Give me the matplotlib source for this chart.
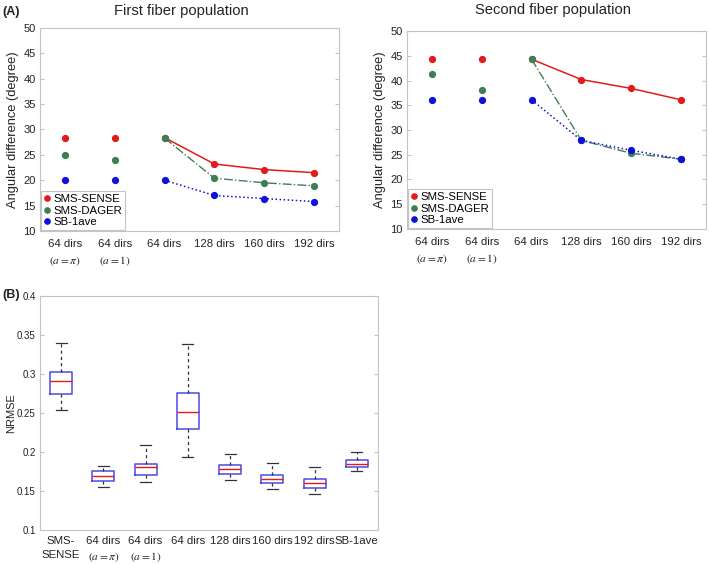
import matplotlib
matplotlib.use("Agg")
import matplotlib.pyplot as plt
import numpy as np

plt.rcParams['font.family'] = ['Liberation Sans', 'DejaVu Sans']
plt.rcParams['mathtext.fontset'] = 'stix'

# ---------------- data ----------------
catsA = ["64 dirs\n$(a=\\pi)$", "64 dirs\n$(a=1)$", "64 dirs", "128 dirs", "160 dirs", "192 dirs"]
series_names = ["SMS-SENSE", "SMS-DAGER", "SB-1ave"]

first_sense = [28.4, 28.4, 28.4, 23.2, 22.1, 21.5]
first_dager = [24.9, 24.0, 28.3, 20.4, 19.5, 18.9]
first_sb = [20.0, 20.0, 20.0, 17.0, 16.4, 15.8]

second_sense = [44.3, 44.3, 44.3, 40.2, 38.4, 36.1]
second_dager = [41.4, 38.1, 44.3, 27.9, 25.3, 24.1]
second_sb = [36.1, 36.1, 36.1, 27.9, 25.9, 24.1]

catsB = ["SMS-\nSENSE", "64 dirs\n$(a=\\pi)$", "64 dirs\n$(a=1)$", "64 dirs",
         "128 dirs", "160 dirs", "192 dirs", "SB-1ave"]
b_whislo = [0.254, 0.155, 0.1615, 0.193, 0.1637, 0.152, 0.1457, 0.1752]
b_q1 = [0.2748, 0.1624, 0.170, 0.230, 0.1718, 0.1598, 0.1538, 0.1808]
b_med = [0.2906, 0.1688, 0.1803, 0.2509, 0.1778, 0.1654, 0.1598, 0.1846]
b_q3 = [0.302, 0.1752, 0.185, 0.276, 0.1833, 0.171, 0.1658, 0.1893]
b_whishi = [0.3397, 0.1825, 0.209, 0.339, 0.1979, 0.1863, 0.1812, 0.200]

# ---------------- style ----------------
RED = '#E41A1A'
GREEN = '#3D7F52'
BLUE = '#1010DD'
BOXBLUE = '#4A4AE6'
SPINE = '#C4C4C4'
TXT = '#222222'

fig = plt.figure(figsize=(7.09, 5.64), dpi=100)

def style_axes(ax, lsize):
    for s in ax.spines.values():
        s.set_color(SPINE)
        s.set_linewidth(0.8)
    ax.tick_params(axis='y', direction='in', length=3, color=SPINE,
                   labelsize=lsize, labelcolor=TXT, right=True, pad=3)
    ax.tick_params(axis='x', length=0, labelsize=8.2, labelcolor=TXT, pad=6)

def panelA(ax, sense, dager, sb, title, tpad, tx):
    x = np.arange(1, len(catsA) + 1)
    styles = [(sense, RED, '-', 1.1), (dager, GREEN, '-.', 1.0), (sb, BLUE, ':', 1.1)]
    handles = []
    for (vals, col, ls, lw), name in zip(styles, series_names):
        ax.plot(x[2:], vals[2:], color=col, ls=ls, lw=lw, zorder=2)
        h, = ax.plot(x, vals, 'o', color=col, ms=4.2, ls='none', zorder=3, label=name)
        handles.append(h)
    ax.set_xlim(0.5, 6.5)
    ax.set_ylim(10, 50)
    ax.set_yticks(np.arange(10, 51, 5))
    ax.set_xticks(x)
    ax.set_xticklabels(catsA, linespacing=1.5)
    style_axes(ax, 8)
    ax.set_ylabel("Angular difference (degree)", fontsize=9.3, color=TXT, labelpad=3)
    ax.set_title(title, fontsize=10.6, color=TXT, pad=tpad, x=tx)
    leg = ax.legend(handles=handles, loc='lower left', fontsize=8.2, handlelength=0.6,
                    handletextpad=0.25, labelspacing=0.12, borderpad=0.25,
                    borderaxespad=0.1, fancybox=False, framealpha=1, markerscale=0.9)
    leg.get_frame().set_edgecolor(SPINE)
    leg.get_frame().set_linewidth(0.8)

ax1 = fig.add_axes([0.0564, 0.5904, 0.4217, 0.36])
panelA(ax1, first_sense, first_dager, first_sb, "First fiber population", 9.5, 0.473)

ax2 = fig.add_axes([0.574, 0.594, 0.4217, 0.351])
panelA(ax2, second_sense, second_dager, second_sb, "Second fiber population", 12.5, 0.49)

ax3 = fig.add_axes([0.0564, 0.0603, 0.4767, 0.415])
stats = []
for lo, q1, med, q3, hi in zip(b_whislo, b_q1, b_med, b_q3, b_whishi):
    stats.append(dict(whislo=lo, q1=q1, med=med, q3=q3, whishi=hi, fliers=[]))
pos = np.arange(1, len(catsB) + 1)
ax3.bxp(stats, positions=pos, widths=0.52, showfliers=False,
        boxprops=dict(color=BOXBLUE, lw=1.1),
        medianprops=dict(color=RED, lw=1.0),
        whiskerprops=dict(color='#333333', lw=0.9, ls=(0, (2.5, 2.5))),
        capprops=dict(color='#333333', lw=0.9),
        capwidths=0.26)
ax3.set_xlim(0.5, 8.5)
ax3.set_ylim(0.1, 0.4)
ax3.set_yticks([0.1, 0.15, 0.2, 0.25, 0.3, 0.35, 0.4])
ax3.set_yticklabels(["0.1", "0.15", "0.2", "0.25", "0.3", "0.35", "0.4"])
ax3.set_xticks(pos)
ax3.set_xticklabels(catsB, linespacing=1.5)
style_axes(ax3, 7)
ax3.tick_params(axis='x', pad=4)
ax3.set_ylabel("NRMSE", fontsize=8, color=TXT, labelpad=1)

fig.text(0.003, 0.99, "(A)", fontsize=9, fontweight='bold', color=TXT, va='top', ha='left')
fig.text(0.003, 0.488, "(B)", fontsize=9, fontweight='bold', color=TXT, va='top', ha='left')

fig.savefig("out.png", dpi=100, facecolor='white')
